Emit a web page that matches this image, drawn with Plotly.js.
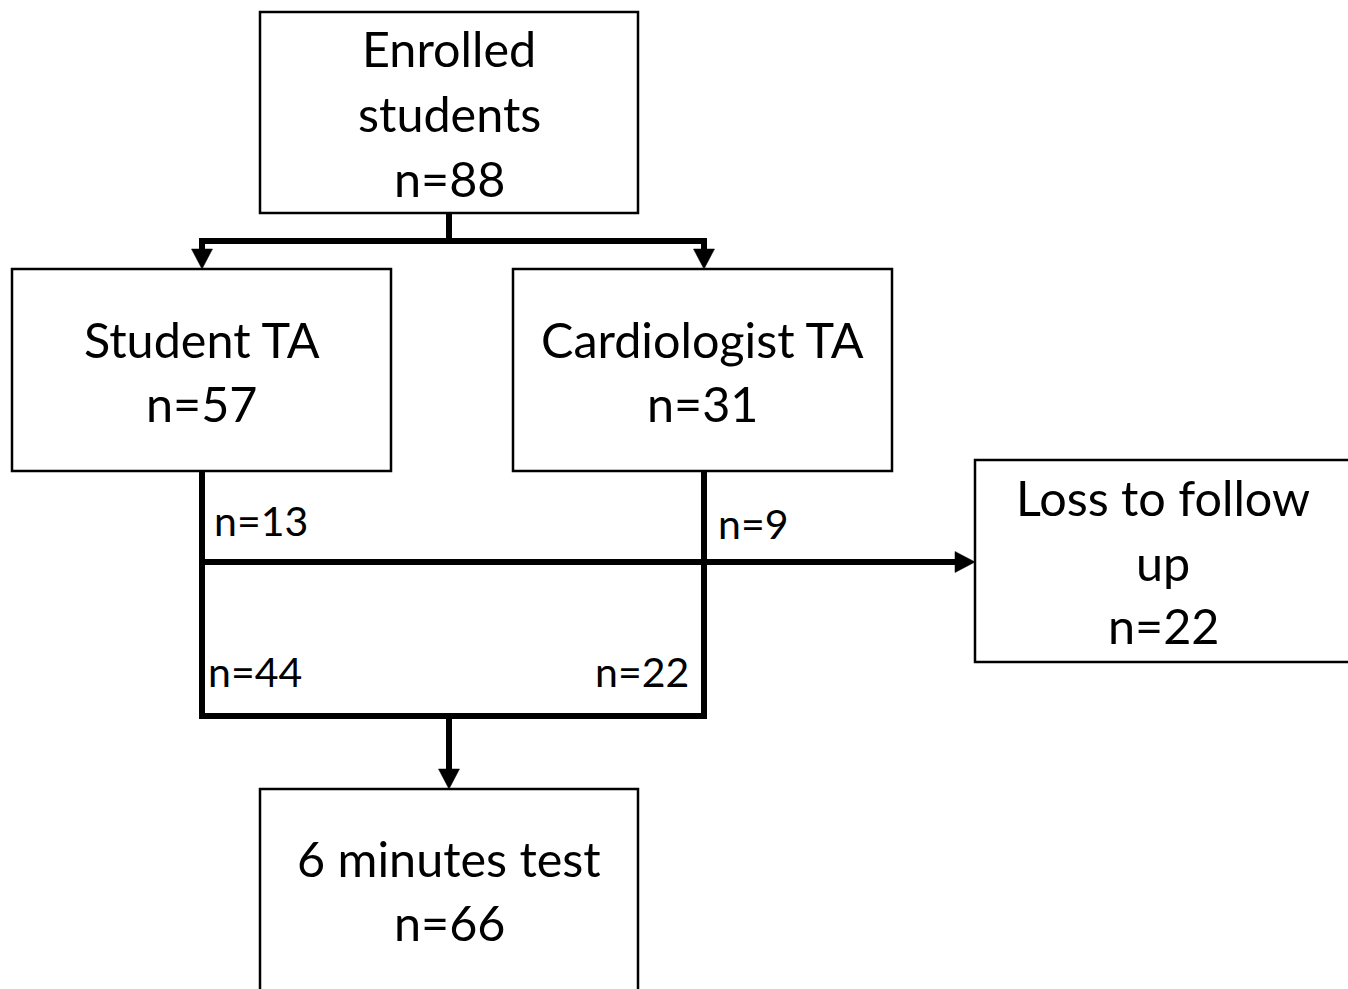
<!DOCTYPE html>
<html>
<head>
<meta charset="utf-8">
<script src="https://cdn.plot.ly/plotly-3.0.1.min.js"></script>
<style>html,body{margin:0;padding:0;background:#fff;}#chart{width:1348px;height:989px;}</style>
</head>
<body>
<div id="chart"></div>
<script>
// ---- data ----
const boxTitles = [["Enrolled", "students"], ["Student TA"], ["Cardiologist TA"], ["Loss to follow", "up"], ["6 minutes test"]];
const boxCounts = [88, 57, 31, 22, 66];
const flowLabels = ["n=13", "n=9", "n=44", "n=22"];

// ---- layout geometry (pixels in a 1348 x 989 frame) ----
const boxes = [
  {x0: 260, x1: 638, y0: 12, y1: 213, lines: [48, 113, 178]},
  {x0: 12, x1: 391, y0: 269, y1: 471, lines: [339, 403]},
  {x0: 513, x1: 892, y0: 269, y1: 471, lines: [339, 403]},
  {x0: 975, x1: 1360, y0: 460, y1: 662, cx: 1163, lines: [497, 562, 625]},
  {x0: 260, x1: 638, y0: 789, y1: 1010, lines: [858, 922]}
];
const flowPos = [
  {x: 212, y: 520, anchor: "left"},
  {x: 716, y: 523, anchor: "left"},
  {x: 206, y: 671, anchor: "left"},
  {x: 691, y: 671, anchor: "right"}
];

const FONT = "Lato, 'Open Sans', sans-serif";
const BIG = 48.5, SMALL = 41;
const thick = 6, thin = 2.5, AH = 20, AW = 10.5;

const shapes = [];
const annotations = [];

boxes.forEach((b, i) => {
  shapes.push({type: "rect", xref: "x", yref: "y", x0: b.x0, x1: b.x1, y0: b.y0, y1: b.y1,
    line: {color: "#000", width: thin}, fillcolor: "rgba(0,0,0,0)"});
  const cx = b.cx !== undefined ? b.cx : (b.x0 + b.x1) / 2;
  const texts = boxTitles[i].concat(["n=" + boxCounts[i]]);
  texts.forEach((t, j) => {
    annotations.push({x: cx, y: b.lines[j], xref: "x", yref: "y", text: t, showarrow: false,
      xanchor: "center", yanchor: "middle", font: {family: FONT, size: BIG, color: "#000"}});
  });
});

flowLabels.forEach((t, i) => {
  const p = flowPos[i];
  annotations.push({x: p.x, y: p.y, xref: "x", yref: "y", text: t, showarrow: false,
    xanchor: p.anchor, yanchor: "middle", font: {family: FONT, size: SMALL, color: "#000"}});
});

function line(path) {
  shapes.push({type: "path", xref: "x", yref: "y", path: path, line: {color: "#000", width: thick}});
}
function tri(tx, ty, dir) {
  let p;
  if (dir === "down") p = `M${tx - AW},${ty - AH} L${tx + AW},${ty - AH} L${tx},${ty} Z`;
  else p = `M${tx - AH},${ty - AW} L${tx - AH},${ty + AW} L${tx},${ty} Z`;
  shapes.push({type: "path", xref: "x", yref: "y", path: p, fillcolor: "#000", line: {color: "#000", width: 0.5}});
}

const enr = boxes[0], st = boxes[1], ca = boxes[2], lo = boxes[3], te = boxes[4];
const eCx = (enr.x0 + enr.x1) / 2, sCx = (st.x0 + st.x1) / 2 + 0.5, cCx = (ca.x0 + ca.x1) / 2 + 1.5;
const splitY = 241, midY = 562, joinY = 716;

// split from enrolled
line(`M${eCx},${enr.y1} L${eCx},${splitY}`);
line(`M${sCx},${st.y0 - AH + 1} L${sCx},${splitY} L${cCx},${splitY} L${cCx},${ca.y0 - AH + 1}`);
tri(sCx, st.y0, "down");
tri(cCx, ca.y0, "down");
// down branches and join
line(`M${sCx},${st.y1} L${sCx},${joinY} L${cCx},${joinY} L${cCx},${ca.y1}`);
// loss to follow-up
line(`M${sCx},${midY} L${lo.x0 - AH + 1},${midY}`);
tri(lo.x0, midY, "right");
// to test
line(`M${eCx},${joinY} L${eCx},${te.y0 - AH + 1}`);
tri(eCx, te.y0, "down");

const layout = {
  width: 1348, height: 989,
  margin: {l: 0, r: 0, t: 0, b: 0, pad: 0},
  paper_bgcolor: "#fff", plot_bgcolor: "#fff",
  xaxis: {range: [0, 1348], visible: false, fixedrange: true},
  yaxis: {range: [989, 0], visible: false, fixedrange: true},
  showlegend: false,
  shapes: shapes,
  annotations: annotations
};

Plotly.newPlot("chart", [], layout, {staticPlot: true, displayModeBar: false});
</script>
</body>
</html>
